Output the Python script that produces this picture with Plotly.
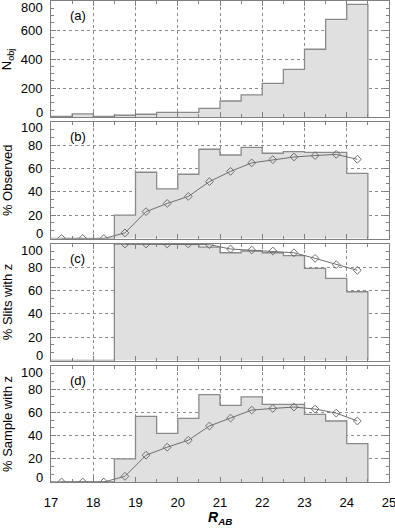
import plotly.graph_objects as go

# ---------------- data ----------------
bin_edges = [17.0, 17.5, 18.0, 18.5, 19.0, 19.5, 20.0, 20.5, 21.0, 21.5,
             22.0, 22.5, 23.0, 23.5, 24.0, 24.5]
n_obj = [7, 23, 7, 14, 21, 34, 34, 62, 112, 154, 234, 330, 468, 674, 777]
pct_observed = [0, 0, 0, 20, 56.7, 42.5, 55, 76.4, 71.5, 78, 73, 74.4, 73.8, 73.8, 55.8]
pct_slits_z = [0, 0, 0, 100, 100, 100, 100, 97.4, 92.5, 94, 92.5, 90, 79, 70.5, 59]
pct_sample_z = [0, 0, 0, 20, 56.6, 42, 54.9, 75.4, 66, 73.4, 66.9, 66.9, 58.3, 52.6, 33.1]

cum_mag = [17.25, 17.75, 18.25, 18.75, 19.25, 19.75, 20.25, 20.75, 21.25, 21.75,
           22.25, 22.75, 23.25, 23.75, 24.25]
cum_observed = [0, 0, 0, 4.8, 23, 30, 36, 48.7, 57.5, 64.7, 67.5, 69.8, 71, 72, 67.8]
cum_slits_z = [None, None, None, 100, 100, 100, 100, 99.4, 95.7, 94.8, 94, 92.5, 87.7, 82.3, 77.4]
cum_sample_z = [0, 0, 0, 4.9, 23.1, 30, 36, 48.3, 55.1, 62, 63.4, 64.6, 62.9, 59.4, 52.6]

x_ticks = [17, 18, 19, 20, 21, 22, 23, 24, 25]
y_ticks_n = [0, 200, 400, 600, 800]
y_ticks_pct = [0, 20, 40, 60, 80, 100]
panel_letters = ["(a)", "(b)", "(c)", "(d)"]
y_titles = ["N<sub>obj</sub>", "% Observed", "% Slits with z", "% Sample with z"]
x_title = "<b><i>R</i></b><sub><b><i>AB</i></b></sub>"

# ---------------- style ----------------
FONT = "Liberation Sans, Arial, Helvetica, sans-serif"
FRAME = "#808080"
GRID = "#8c8c8c"
FILL = "#e0e0e0"
OUTLINE = "#8a8a8a"
MARK = "#6e6e6e"
W, H = 395, 529
ML, MR, MT, MB = 51, 6, 1, 47
plot_h = H - MT - MB

# pixel extents (top, bottom) of each panel
panel_px = [(1, 117.3), (121.7, 238.5), (244, 360.5), (366, 482)]
domains = [[(H - MB - b) / plot_h, (H - MB - t) / plot_h] for t, b in panel_px]
domains = [[max(0, d0), min(1, d1)] for d0, d1 in domains]

hist_values = [n_obj, pct_observed, pct_slits_z, pct_sample_z]
cum_values = [None, cum_observed, cum_slits_z, cum_sample_z]
y_ranges = [[0, 800], [0, 100], [0, 100], [0, 100]]
y_tickvals = [y_ticks_n, y_ticks_pct, y_ticks_pct, y_ticks_pct]
y_minor = [50, 20 / 3, 20 / 3, 20 / 3]

fig = go.Figure()
annotations = []
tick_font = dict(family=FONT, size=13, color="black")

for i in range(4):
    xa = "x" if i == 0 else f"x{i + 1}"
    ya = "y" if i == 0 else f"y{i + 1}"
    vals = hist_values[i]
    step_x = list(bin_edges) + [bin_edges[-1]]
    step_y = list(vals) + [vals[-1], 0]
    fig.add_trace(go.Scatter(
        x=step_x, y=step_y, mode="lines",
        line=dict(shape="hv", color=OUTLINE, width=1.3),
        fill="tozeroy", fillcolor=FILL,
        xaxis=xa, yaxis=ya, showlegend=False, hoverinfo="skip"))
    if cum_values[i] is not None:
        fig.add_trace(go.Scatter(
            x=cum_mag, y=cum_values[i], mode="lines+markers",
            line=dict(color=MARK, width=1),
            marker=dict(symbol="diamond-open", size=6, color=MARK,
                        line=dict(width=1, color=MARK)),
            xaxis=xa, yaxis=ya, showlegend=False, hoverinfo="skip"))

    tv = y_tickvals[i]
    inner = tv[1:-1]
    axis_common = dict(
        showline=True, linecolor=FRAME, linewidth=1, mirror="ticks",
        ticks="inside", ticklen=5, tickcolor=FRAME, tickwidth=1,
        showgrid=True, gridcolor=GRID, gridwidth=1, griddash="dot",
        zeroline=False, autorange=False, automargin=False,
        ticklabeloverflow="allow",
        tickfont=tick_font,
    )
    fig.update_layout(**{
        ("xaxis" if i == 0 else f"xaxis{i + 1}"): dict(
            axis_common, range=[17, 25], tickmode="array", tickvals=x_ticks,
            ticktext=[str(v) for v in x_ticks],
            showticklabels=(i == 3), anchor=ya, domain=[0, 1],
            ticklabelstandoff=8,
            minor=dict(tickmode="linear", tick0=17, dtick=0.5, ticks="inside",
                       ticklen=3, tickcolor=FRAME, showgrid=False)),
        ("yaxis" if i == 0 else f"yaxis{i + 1}"): dict(
            axis_common, range=y_ranges[i], tickmode="array", tickvals=inner,
            ticktext=[str(v) for v in inner], anchor=xa, domain=domains[i],
            ticklabelstandoff=5,
            minor=dict(tickmode="linear", tick0=0, dtick=y_minor[i], ticks="inside",
                       ticklen=3, tickcolor=FRAME, showgrid=False)),
    })
    # edge tick labels, nudged inward as in the original
    annotations.append(dict(text=str(tv[-1]), x=0, xref="paper", y=tv[-1], yref=ya,
                            xanchor="right", yanchor="middle", xshift=-6, yshift=-6,
                            showarrow=False, font=tick_font))
    annotations.append(dict(text=str(tv[0]), x=0, xref="paper", y=tv[0], yref=ya,
                            xanchor="right", yanchor="middle", xshift=-6, yshift=5,
                            showarrow=False, font=tick_font))
    # panel letter
    annotations.append(dict(text=panel_letters[i], x=17.4, xref=xa, y=1,
                            yref=f"{ya} domain", xanchor="left", yanchor="top",
                            yshift=-5, showarrow=False, font=tick_font))
    # y title
    annotations.append(dict(text=y_titles[i], x=(7 - ML) / (W - ML - MR), xref="paper",
                            y=sum(domains[i]) / 2, yref="paper", textangle=-90,
                            xanchor="center", yanchor="middle", showarrow=False,
                            font=tick_font))

annotations.append(dict(text=x_title, x=0.5, xref="paper", y=(H - MB - 518) / plot_h,
                        yref="paper", xanchor="center", yanchor="middle", showarrow=False,
                        font=dict(family=FONT, size=14, color="black")))

fig.update_layout(
    width=W, height=H,
    margin=dict(l=ML, r=MR, t=MT, b=MB),
    paper_bgcolor="white", plot_bgcolor="white",
    annotations=annotations,
    showlegend=False,
)

fig.write_html(
    "out.html",
    config={"displayModeBar": False},
    post_script="document.body.style.margin='0';document.body.style.padding='0';",
)
